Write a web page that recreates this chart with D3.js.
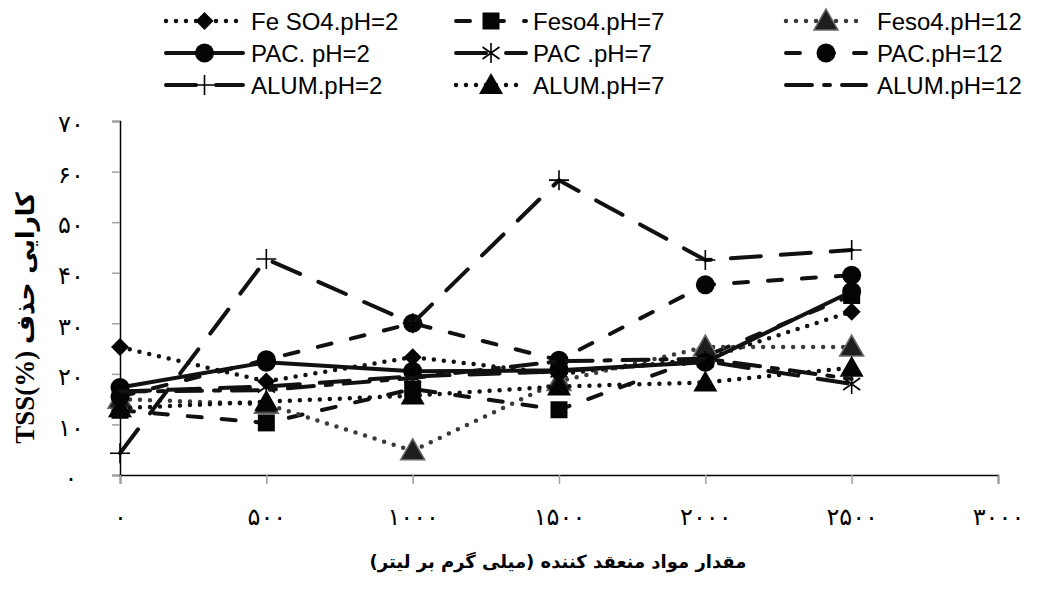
<!DOCTYPE html>
<html>
<head>
<meta charset="utf-8">
<script src="https://cdn.jsdelivr.net/npm/d3@7"></script>
<style>
  body { margin: 0; background: #fff; }
  svg { display: block; }
</style>
</head>
<body>
<div id="chart"></div>
<script>
// dosage of coagulant (mg/L) and TSS removal (%)
const doses = [0, 500, 1000, 1500, 2000, 2500];
const xTicks = [0, 500, 1000, 1500, 2000, 2500, 3000];
const yTicks = [0, 10, 20, 30, 40, 50, 60, 70];

const feso4Ph2  = [25.3, 18.5, 23.3, 20.0, 23.0, 32.3];
const feso4Ph7  = [12.8, 10.3, 17.0, 12.9, 23.5, 35.5];
const feso4Ph12 = [15.0, 14.0, 4.8, 18.5, 25.3, 25.3];
const pacPh2    = [17.3, 22.3, 20.5, 20.7, 22.3, 36.3];
const pacPh7    = [16.5, 17.5, 19.5, 20.5, 22.5, 18.0];
const pacPh12   = [15.5, 22.8, 30.0, 22.7, 37.6, 39.5];
const alumPh2   = [4.3, 42.7, 30.0, 58.3, 42.5, 44.5];
const alumPh7   = [13.2, 14.5, 15.7, 17.5, 18.3, 21.2];
const alumPh12  = [16.5, 16.8, 19.2, 22.5, 23.0, 19.0];

const seriesNames = ["Fe SO4.pH=2", "Feso4.pH=7", "Feso4.pH=12",
                     "PAC. pH=2", "PAC .pH=7", "PAC.pH=12",
                     "ALUM.pH=2", "ALUM.pH=7", "ALUM.pH=12"];
const seriesValues = [feso4Ph2, feso4Ph7, feso4Ph12, pacPh2, pacPh7, pacPh12, alumPh2, alumPh7, alumPh12];

const yTitleLatin = "TSS(%) ";
const yTitlePersian = "کارایی حذف";
const xTitle = "مقدار مواد منعقد کننده  (میلی گرم بر لیتر)";

// line + marker look for each series (same order as names)
const styles = [
  {dash: "0,10",  color: "#111", marker: "diamond"},
  {dash: "14,20", color: "#111", marker: "square"},
  {dash: "0,10",  color: "#3a3a3a", marker: "grayTriangle"},
  {dash: null,    color: "#111", marker: "circle"},
  {dash: "30,20", color: "#111", marker: "star"},
  {dash: "14,20", color: "#111", marker: "circle"},
  {dash: "30,20", color: "#111", marker: "plus"},
  {dash: "0,10",  color: "#111", marker: "triangle"},
  {dash: "26,12,6,12", color: "#111", marker: null}
];

const width = 1052, height = 596;

const svg = d3.select("#chart").append("svg")
  .attr("width", width)
  .attr("height", height);

const x = d3.scaleLinear().domain([0, 3000]).range([120, 998]);
const y = d3.scaleLinear().domain([0, 70]).range([475, 121]);

const persianDigits = "۰۱۲۳۴۵۶۷۸۹";
function toPersian(n) {
  return String(n).replace(/[0-9]/g, c => persianDigits[+c]);
}

// axes
const yAxis = svg.append("g")
  .attr("transform", "translate(" + x(0) + ",0)")
  .call(d3.axisLeft(y).tickValues(yTicks).tickSize(8).tickPadding(41).tickFormat(toPersian));

const xAxis = svg.append("g")
  .attr("transform", "translate(0," + y(0) + ")")
  .call(d3.axisBottom(x).tickValues(xTicks).tickSize(9).tickPadding(24).tickFormat(toPersian));

[yAxis, xAxis].forEach(g => {
  g.select(".domain").attr("stroke", "#000").attr("stroke-width", 1.5);
  g.selectAll(".tick line").attr("stroke", "#a0a0a0").attr("stroke-width", 1.5);
  g.selectAll(".tick text")
    .attr("fill", "#000")
    .attr("font-family", "DejaVu Sans")
    .attr("font-size", "24px");
});
yAxis.selectAll(".tick text").attr("text-anchor", "middle").attr("dy", "0.45em");

// markers
function markerPath(type) {
  switch (type) {
    case "diamond": return "M0,-9L9,0L0,9L-9,0Z";
    case "square": return "M-8.5,-8.5H8.5V8.5H-8.5Z";
    case "triangle":
    case "grayTriangle": return "M0,-12L12,9L-12,9Z";
    case "circle": return d3.symbol().type(d3.symbolCircle).size(Math.PI * 9.5 * 9.5)();
    case "plus": return "M-10,0H10M0,-10V10";
    case "star": return "M0,-10V10M-8.5,-6L8.5,6M-8.5,6L8.5,-6";
  }
  return null;
}

function drawMarker(g, type, cx, cy) {
  if (!type) return;
  const p = g.append("path")
    .attr("d", markerPath(type))
    .attr("transform", "translate(" + cx + "," + cy + ")");
  if (type === "plus" || type === "star") {
    p.attr("fill", "none").attr("stroke", "#000").attr("stroke-width", 1.6);
  } else if (type === "grayTriangle") {
    p.attr("fill", "#1e1e1e").attr("stroke", "#6a6a6a").attr("stroke-width", 1.5);
  } else {
    p.attr("fill", "#050505");
  }
}

const line = d3.line()
  .x((d, i) => x(doses[i]))
  .y(d => y(d));

const plot = svg.append("g");

seriesValues.forEach((vals, k) => {
  const st = styles[k];
  const g = plot.append("g");
  g.append("path")
    .datum(vals)
    .attr("d", line)
    .attr("fill", "none")
    .attr("stroke", st.color)
    .attr("stroke-width", st.dash === "0,10" ? 4.5 : 4)
    .attr("stroke-linecap", "round")
    .attr("stroke-linejoin", "round")
    .attr("stroke-dasharray", st.dash);
  vals.forEach((v, i) => drawMarker(g, st.marker, x(doses[i]), y(v)));
});

// legend, 3 columns x 3 rows
const legendCols = [{x0: 166, x1: 243, tx: 251}, {x0: 456, x1: 526, tx: 533}, {x0: 786, x1: 866, tx: 877}];
const legendRows = [21, 53, 85];

const legend = svg.append("g");
seriesNames.forEach((name, k) => {
  const col = legendCols[k % 3], ry = legendRows[Math.floor(k / 3)];
  const st = styles[k];
  const g = legend.append("g");
  g.append("line")
    .attr("x1", col.x0).attr("x2", col.x1)
    .attr("y1", ry).attr("y2", ry)
    .attr("stroke", st.color)
    .attr("stroke-width", st.dash === "0,10" ? 4.5 : 4)
    .attr("stroke-linecap", "round")
    .attr("stroke-dasharray", st.dash);
  drawMarker(g, st.marker, (col.x0 + col.x1) / 2, ry);
  g.append("text")
    .attr("x", col.tx).attr("y", ry)
    .attr("dy", "0.36em")
    .attr("font-family", "Liberation Sans, Arial, sans-serif")
    .attr("font-size", "24px")
    .attr("fill", "#000")
    .text(name);
});

// axis titles
svg.append("text")
  .attr("x", 558).attr("y", 562)
  .attr("dy", "0.35em")
  .attr("text-anchor", "middle")
  .attr("direction", "rtl")
  .attr("font-family", "DejaVu Sans")
  .attr("font-weight", "bold")
  .attr("font-size", "18px")
  .text(xTitle);

const yTitle = svg.append("text")
  .attr("transform", "translate(25,318) rotate(-90)")
  .attr("text-anchor", "middle")
  .attr("dy", "0.35em")
  .attr("font-weight", "bold")
  .attr("font-size", "25px");
yTitle.append("tspan").attr("font-family", "Liberation Serif, serif").attr("font-size", "27px").text(yTitleLatin);
yTitle.append("tspan").attr("font-family", "DejaVu Sans").text(yTitlePersian);
</script>
</body>
</html>
